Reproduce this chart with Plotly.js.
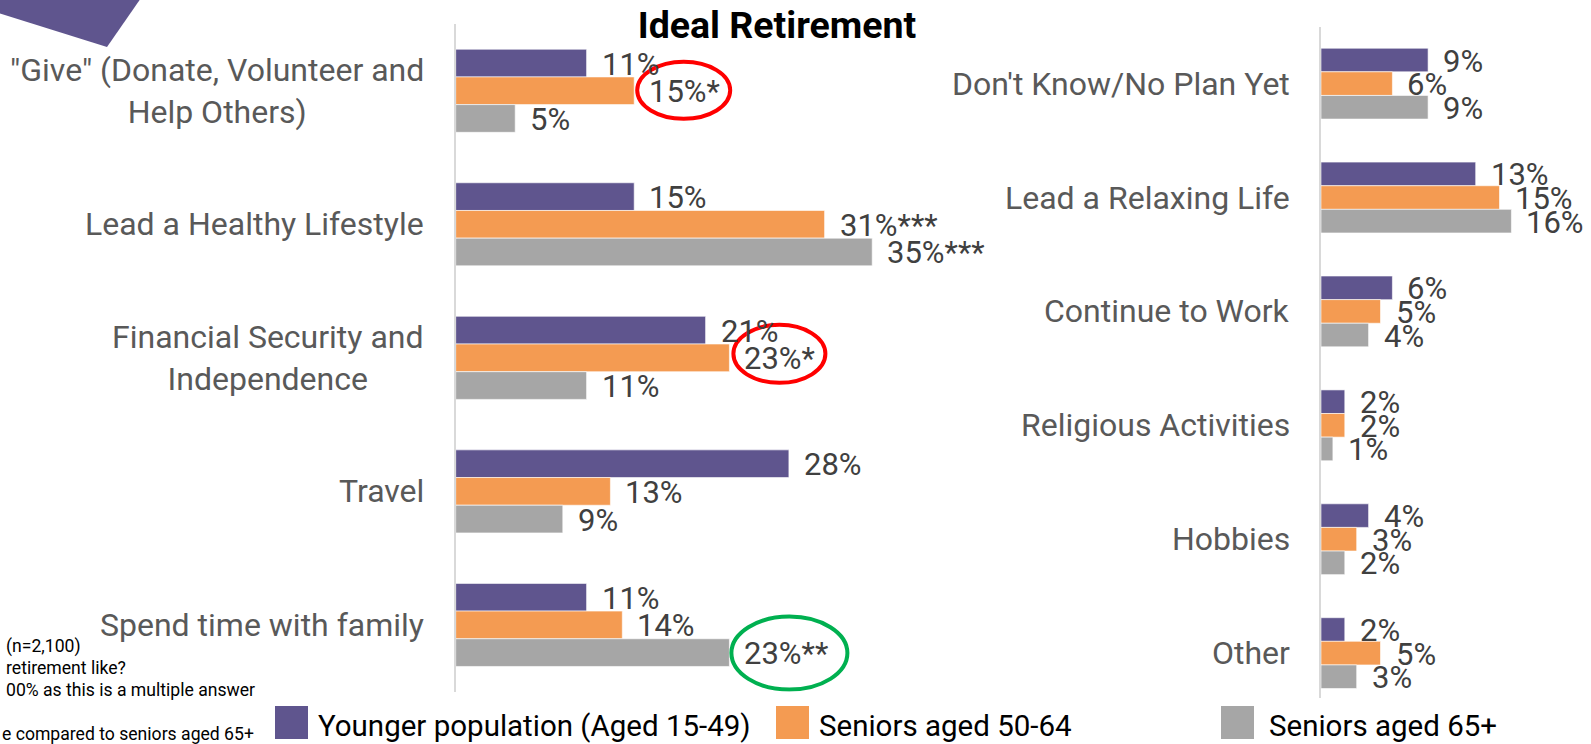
<!DOCTYPE html>
<html>
<head>
<meta charset="utf-8">
<script src="https://cdn.plot.ly/plotly-3.0.1.min.js"></script>
<style>html,body{margin:0;padding:0;background:#fff;}#chart{width:1591px;height:744px;}</style>
</head>
<body>
<div id="chart"></div>
<script>
// ---------- data ----------
const seriesNames = ['Younger population (Aged 15-49)', 'Seniors aged 50-64', 'Seniors aged 65+'];
const seriesColors = ['#5f558e', '#f49b52', '#a6a6a6'];

const categoriesLeft = ['"Give" (Donate, Volunteer and<br>Help Others)', 'Lead a Healthy Lifestyle', 'Financial Security and<br>Independence', 'Travel', 'Spend time with family'];
const youngLeft = [11, 15, 21, 28, 11];
const mid50Left = [15, 31, 23, 13, 14];
const old65Left = [5, 35, 11, 9, 23];
const sigYoungLeft = ['', '', '', '', ''];
const sigMidLeft = ['*', '***', '*', '', ''];
const sigOldLeft = ['', '***', '', '', '**'];

const categoriesRight = ["Don't Know/No Plan Yet", 'Lead a Relaxing Life', 'Continue to Work', 'Religious Activities', 'Hobbies', 'Other'];
const youngRight = [9, 13, 6, 2, 4, 2];
const mid50Right = [6, 15, 5, 2, 3, 5];
const old65Right = [9, 16, 4, 1, 2, 3];

const titleText = 'Ideal Retirement';
const noteLines = ['(n=2,100)', 'retirement like?', '00% as this is a multiple answer', 'e compared to seniors aged 65+'];

// highlighted labels: panel, series index, category index, colour, ellipse pixel extents
const highlights = [
  {panel: 'left', series: 1, cat: 0, color: '#ff0000', ex: [3, 96], ey: [-28, 29]},
  {panel: 'left', series: 1, cat: 2, color: '#ff0000', ex: [4, 96], ey: [-25, 33]},
  {panel: 'left', series: 2, cat: 4, color: '#00b050', ex: [2, 118], ey: [-37, 36]}
];

// ---------- layout helpers ----------
const W = 1591, H = 744;
const px = x => x / W;
const py = y => 1 - y / H;
const FONT = 'Roboto, "Open Sans", sans-serif';
const BARGAP = 0.378;
const barW = (1 - BARGAP) / 3;

const leftSeries = [youngLeft, mid50Left, old65Left];
const leftSig = [sigYoungLeft, sigMidLeft, sigOldLeft];
const rightSeries = [youngRight, mid50Right, old65Right];

const traces = [];
leftSeries.forEach((vals, k) => {
  traces.push({type: 'bar', orientation: 'h', x: vals, y: categoriesLeft, name: seriesNames[k],
    marker: {color: seriesColors[k], line: {color: 'rgba(255,255,255,0.6)', width: 1}},
    xaxis: 'x', yaxis: 'y', showlegend: false, hoverinfo: 'skip'});
});
rightSeries.forEach((vals, k) => {
  traces.push({type: 'bar', orientation: 'h', x: vals, y: categoriesRight, name: seriesNames[k],
    marker: {color: seriesColors[k], line: {color: 'rgba(255,255,255,0.6)', width: 1}},
    xaxis: 'x2', yaxis: 'y2', showlegend: false, hoverinfo: 'skip'});
});

const annotations = [];
const shapes = [];

// value labels
function addValueLabels(seriesArr, sigArr, xr, yr) {
  seriesArr.forEach((vals, k) => {
    vals.forEach((v, i) => {
      const suffix = sigArr ? sigArr[k][i] : '';
      annotations.push({xref: xr, yref: yr, x: v, y: i + (k - 1) * barW, text: v + '%' + suffix,
        showarrow: false, xanchor: 'left', yanchor: 'middle', xshift: 13, yshift: -1,
        font: {family: FONT, size: 31, color: '#404040'}});
    });
  });
}
addValueLabels(leftSeries, leftSig, 'x', 'y');
addValueLabels(rightSeries, null, 'x2', 'y2');

// category labels
categoriesLeft.forEach((c, i) => annotations.push({xref: 'x domain', yref: 'y', x: 0, y: i, text: c,
  showarrow: false, xanchor: 'right', yanchor: 'middle', align: 'center', xshift: -30,
  font: {family: FONT, size: 32, color: '#595959'}}));
categoriesRight.forEach((c, i) => annotations.push({xref: 'x2 domain', yref: 'y2', x: 0, y: i, text: c,
  showarrow: false, xanchor: 'right', yanchor: 'middle', align: 'right', xshift: -29,
  font: {family: FONT, size: 32, color: '#595959'}}));

// highlight ellipses around labels
highlights.forEach(h => {
  const vals = (h.panel === 'left' ? leftSeries : rightSeries)[h.series];
  shapes.push({type: 'circle', xref: h.panel === 'left' ? 'x' : 'x2', yref: h.panel === 'left' ? 'y' : 'y2',
    xsizemode: 'pixel', ysizemode: 'pixel',
    xanchor: vals[h.cat], yanchor: h.cat + (h.series - 1) * barW,
    x0: h.ex[0], x1: h.ex[1], y0: h.ey[0], y1: h.ey[1],
    line: {color: h.color, width: 4}, fillcolor: 'rgba(0,0,0,0)'});
});

// decorative purple corner polygon
shapes.push({type: 'path', xref: 'paper', yref: 'paper',
  path: `M ${px(-2)} ${py(-2)} L ${px(141)} ${py(-2)} L ${px(107)} ${py(47)} L ${px(-2)} ${py(13)} Z`,
  fillcolor: '#5f558e', line: {width: 0}});

// legend (custom, large swatches)
const legendSwatchX = [275, 776, 1221];
const legendTextX = [316, 817, 1267];
seriesNames.forEach((n, k) => {
  shapes.push({type: 'rect', xref: 'paper', yref: 'paper', x0: px(legendSwatchX[k]), x1: px(legendSwatchX[k] + 33),
    y0: py(739), y1: py(706), fillcolor: seriesColors[k], line: {width: 0}});
  annotations.push({xref: 'paper', yref: 'paper', x: px(legendTextX[k]), y: py(726), text: n,
    showarrow: false, xanchor: 'left', yanchor: 'middle', font: {family: FONT, size: 29.5, color: '#000000'}});
});

// notes (cropped text at the left edge)
const noteY = [646, 668, 690, 734];
noteLines.forEach((t, i) => annotations.push({xref: 'paper', yref: 'paper', x: px(i === 3 ? 0 : 4), y: py(noteY[i]),
  text: t, showarrow: false, xanchor: 'left', yanchor: 'middle', font: {family: FONT, size: 17.6, color: '#000000'}}));

const layout = {
  width: W, height: H,
  margin: {l: 0, r: 0, t: 0, b: 0, pad: 0},
  paper_bgcolor: '#ffffff', plot_bgcolor: 'rgba(0,0,0,0)',
  barmode: 'group', bargap: BARGAP, bargroupgap: 0,
  showlegend: false,
  title: {text: titleText, x: px(777), xanchor: 'center', y: py(25), yanchor: 'middle',
    font: {family: FONT, size: 37.5, color: '#000000', weight: 'bold'}},
  xaxis: {domain: [px(455.7), px(931.7)], range: [0, 40], visible: false, fixedrange: true},
  yaxis: {domain: [py(691.7), py(24)], type: 'category', range: [4.5, -0.5], showticklabels: false,
    ticks: '', showgrid: false, zeroline: false, showline: true, linecolor: '#d9d9d9', linewidth: 2, fixedrange: true},
  xaxis2: {domain: [px(1321), px(1559)], range: [0, 20], visible: false, fixedrange: true, anchor: 'y2'},
  yaxis2: {domain: [py(698), py(26.7)], type: 'category', range: [5.394, -0.5], showticklabels: false, anchor: 'x2',
    ticks: '', showgrid: false, zeroline: false, showline: true, linecolor: '#d9d9d9', linewidth: 2, fixedrange: true},
  annotations: annotations,
  shapes: shapes
};

Plotly.newPlot('chart', traces, layout, {staticPlot: true, displayModeBar: false});
</script>
</body>
</html>
